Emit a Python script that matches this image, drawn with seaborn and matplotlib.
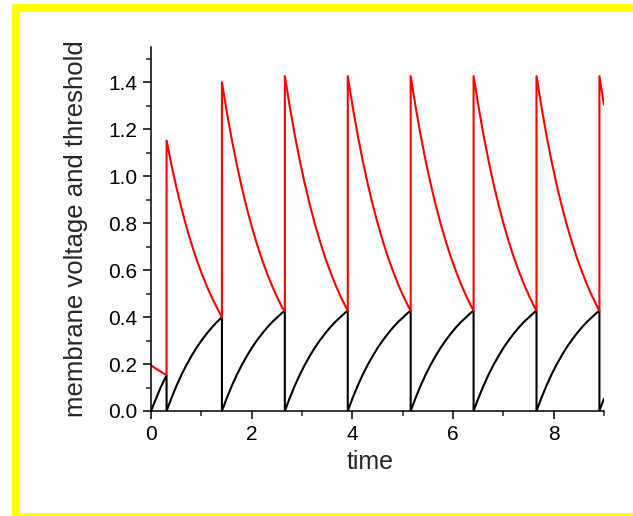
import matplotlib
matplotlib.use("Agg")
import matplotlib.pyplot as plt
import pandas as pd
import seaborn as sns
from matplotlib.patches import Rectangle
from matplotlib.ticker import MultipleLocator, FormatStrFormatter

# spike times (the moments where voltage resets and threshold jumps)
spike_times = [0.31, 1.41, 2.66, 3.91, 5.16, 6.41, 7.66, 8.91]

# before the first spike
t_first = [0.0, 0.1, 0.2, 0.31]
v_first = [0.0, 0.053, 0.104, 0.152]
th_first = [0.195, 0.180, 0.167, 0.152]

# time elapsed since the last spike
offsets = [0.0, 0.1, 0.2, 0.3, 0.4, 0.5, 0.6, 0.7, 0.8, 0.9, 1.0, 1.1, 1.2, 1.25]
v_after_spike = [0.0, 0.057, 0.109, 0.156, 0.198, 0.236, 0.271, 0.302,
                 0.330, 0.356, 0.379, 0.399, 0.419, 0.427]

# threshold after the first spike (interval 0.31 -> 1.41)
th_after_first = [1.152, 1.045, 0.948, 0.860, 0.780, 0.708, 0.643, 0.585,
                  0.531, 0.483, 0.440, 0.399]
# threshold after the second spike
th_after_second = [1.400, 1.269, 1.151, 1.044, 0.947, 0.859, 0.780, 0.708,
                   0.643, 0.584, 0.531, 0.483, 0.439, 0.427]
# threshold in the periodic regime
th_steady = [1.426, 1.293, 1.172, 1.063, 0.964, 0.875, 0.794, 0.721,
             0.654, 0.595, 0.540, 0.491, 0.447, 0.427]

# after the last spike, up to the end of the window
tail_offsets = [0.0, 0.05, 0.09]
v_tail = [0.0, 0.029, 0.052]
th_tail = [1.426, 1.357, 1.305]

segments = [(t_first, v_first, th_first)]
segments.append(([spike_times[0] + o for o in offsets[:12]],
                 v_after_spike[:12], th_after_first))
segments.append(([spike_times[1] + o for o in offsets],
                 v_after_spike, th_after_second))
for ts in spike_times[2:-1]:
    segments.append(([ts + o for o in offsets], v_after_spike, th_steady))
segments.append(([spike_times[-1] + o for o in tail_offsets], v_tail, th_tail))

rows = []
for times, volts, ths in segments:
    rows += [("voltage", t, v) for t, v in zip(times, volts)]
for times, volts, ths in segments:
    rows += [("threshold", t, h) for t, h in zip(times, ths)]
df = pd.DataFrame(rows, columns=["series", "time", "value"])

sns.set_style("ticks")
plt.rcParams["font.family"] = ["Liberation Sans", "DejaVu Sans"]

fig = plt.figure(figsize=(6.33, 5.16), dpi=100)
fig.patch.set_facecolor("white")
ax = fig.add_axes([0.2385, 0.2035, 0.7156, 0.7054])

sns.lineplot(data=df, x="time", y="value", hue="series",
             palette={"voltage": "black", "threshold": "#ff0000"},
             sort=False, estimator=None, legend=False, linewidth=1.5, ax=ax)

ax.set_xlim(0, 9)
ax.set_ylim(0, 1.55)
ax.xaxis.set_major_locator(MultipleLocator(2))
ax.xaxis.set_minor_locator(MultipleLocator(1))
ax.yaxis.set_major_locator(MultipleLocator(0.2))
ax.yaxis.set_minor_locator(MultipleLocator(0.1))
ax.yaxis.set_major_formatter(FormatStrFormatter("%.1f"))
ax.tick_params(which="major", direction="out", length=6, width=1.1,
               labelsize=15, colors="black", pad=4)
ax.tick_params(which="minor", direction="out", length=3.5, width=1.1)
sns.despine(ax=ax)
for side in ("left", "bottom"):
    ax.spines[side].set_linewidth(1.1)
    ax.spines[side].set_color("black")

ax.set_xlabel("time", fontsize=18)
ax.set_ylabel("membrane voltage and threshold", fontsize=18.5)
ax.xaxis.set_label_coords(0.484, -0.107)
ax.yaxis.set_label_coords(-0.140, 0.5)

# yellow frame around the figure
frame = Rectangle((15.5 / 633, -1 / 516), (640 - 15.5) / 633, (517 - 8) / 516,
                  transform=fig.transFigure, fill=False,
                  edgecolor="#ffff00", linewidth=5.6, clip_on=False)
fig.add_artist(frame)

fig.savefig("out.png", dpi=100, facecolor="white")
